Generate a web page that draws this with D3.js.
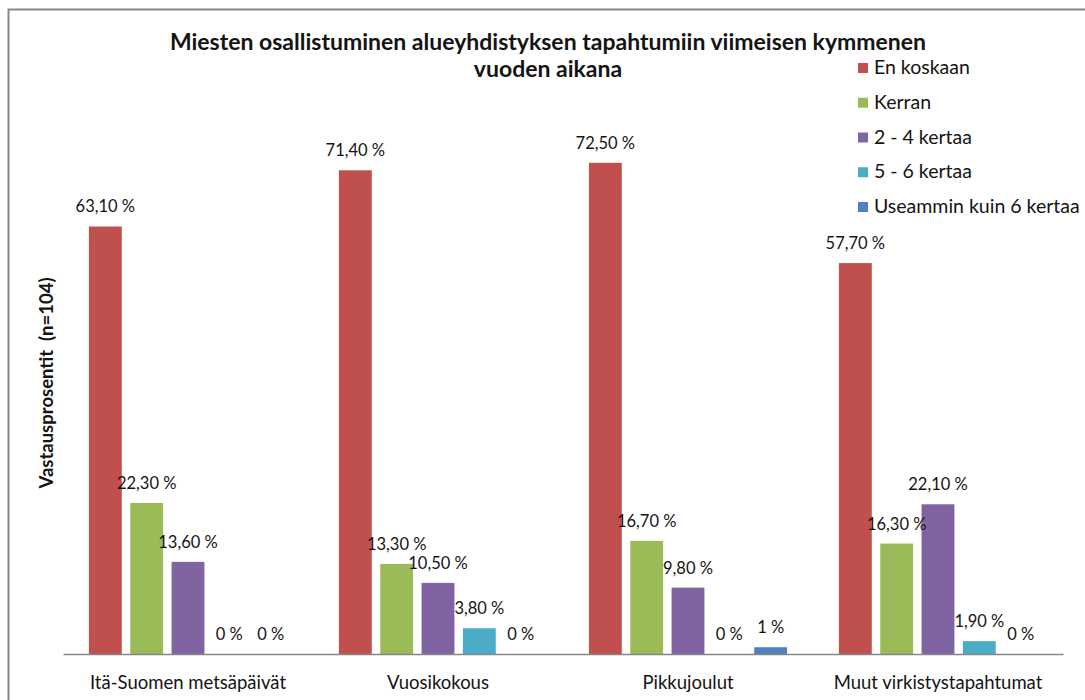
<!DOCTYPE html>
<html lang="fi">
<head>
<meta charset="UTF-8">
<title>Miesten osallistuminen</title>
<script src="https://d3js.org/d3.v7.min.js"></script>
<style>
    body { margin: 0; background: #fff; }
    svg text { font-family: Lato, "Open Sans", sans-serif; fill: #141414; }
    .title { font-weight: bold; font-size: 23px; }
    .ylab { font-weight: bold; font-size: 18.5px; white-space: pre; }
    .cat { font-size: 18.5px; }
    .val { font-size: 16.5px; }
    .leg { font-size: 19.5px; }
</style>
</head>
<body>
<div id="chart"></div>
<script>
// data
const categories = ["Itä-Suomen metsäpäivät", "Vuosikokous", "Pikkujoulut", "Muut virkistystapahtumat"];
const seriesNames = ["En koskaan", "Kerran", "2 - 4 kertaa", "5 - 6 kertaa", "Useammin kuin 6 kertaa"];
const enKoskaan = [63.1, 71.4, 72.5, 57.7];
const kerran = [22.3, 13.3, 16.7, 16.3];
const kertaa2to4 = [13.6, 10.5, 9.8, 22.1];
const kertaa5to6 = [0, 3.8, 0, 1.9];
const useammin = [0, 0, 1, 0];
const seriesColors = ["#C0504D", "#9BBB59", "#8064A2", "#4BACC6", "#4F81BD"];

const seriesValues = [enKoskaan, kerran, kertaa2to4, kertaa5to6, useammin];

const width = 1085, height = 700;
const plot = {left: 63, right: 1063, top: 112, bottom: 654};

const svg = d3.select("#chart").append("svg")
    .attr("width", width)
    .attr("height", height);

// chart area border (cut off at right/bottom like the source)
svg.append("rect")
    .attr("x", 8.5).attr("y", 9.5)
    .attr("width", 1100).attr("height", 720)
    .attr("fill", "none")
    .attr("stroke", "#868686")
    .attr("stroke-width", 2);

const x0 = d3.scaleBand()
    .domain(categories)
    .range([plot.left, plot.right]);

const x1 = d3.scaleBand()
    .domain(seriesNames)
    .range([0, x0.bandwidth()])
    .paddingInner(0.205)
    .paddingOuter(0.627);

const y = d3.scaleLinear()
    .domain([0, 80])
    .range([plot.bottom, plot.top]);

const fmt = v => Number.isInteger(v) ? v + " %" : v.toFixed(2).replace(".", ",") + " %";

const groups = svg.selectAll(".grp")
    .data(categories)
    .enter().append("g")
    .attr("class", "grp")
    .attr("transform", d => `translate(${x0(d)},0)`);

groups.each(function(cat, ci) {
    const g = d3.select(this);
    const rows = seriesNames.map((s, si) => ({s, si, v: seriesValues[si][ci]}));
    g.selectAll("rect")
        .data(rows)
        .enter().append("rect")
        .attr("x", d => x1(d.s))
        .attr("width", x1.bandwidth())
        .attr("y", d => y(d.v))
        .attr("height", d => plot.bottom - y(d.v))
        .attr("fill", d => seriesColors[d.si]);
    g.selectAll("text.val")
        .data(rows)
        .enter().append("text")
        .attr("class", "val")
        .attr("x", d => x1(d.s) + x1.bandwidth() / 2)
        .attr("y", d => y(d.v) - 14)
        .attr("text-anchor", "middle")
        .text(d => fmt(d.v));
});

// x axis line + category labels
const xAxis = svg.append("g")
    .attr("transform", `translate(0,${plot.bottom})`)
    .call(d3.axisBottom(x0).tickSize(0).tickPadding(22));
xAxis.select(".domain").attr("stroke", "#868686").attr("stroke-width", 1.5);
xAxis.selectAll("text").attr("class", "cat").attr("font-size", null).attr("font-family", null);

// title
const title = svg.append("text")
    .attr("class", "title")
    .attr("text-anchor", "middle");
title.append("tspan").attr("x", 548).attr("y", 50)
    .text("Miesten osallistuminen alueyhdistyksen tapahtumiin viimeisen kymmenen");
title.append("tspan").attr("x", 548).attr("y", 77)
    .text("vuoden aikana");

// y label
svg.append("text")
    .attr("class", "ylab")
    .attr("text-anchor", "middle")
    .attr("transform", "translate(53,383) rotate(-90)")
    .text("Vastausprosentit  (n=104)");

// legend
const legend = svg.selectAll(".legrow")
    .data(seriesNames)
    .enter().append("g")
    .attr("class", "legrow")
    .attr("transform", (d, i) => `translate(858,${63 + i * 34.75})`);
legend.append("rect")
    .attr("width", 10).attr("height", 10)
    .attr("fill", (d, i) => seriesColors[i]);
legend.append("text")
    .attr("class", "leg")
    .attr("x", 16).attr("y", 11)
    .text(d => d);
</script>
</body>
</html>
